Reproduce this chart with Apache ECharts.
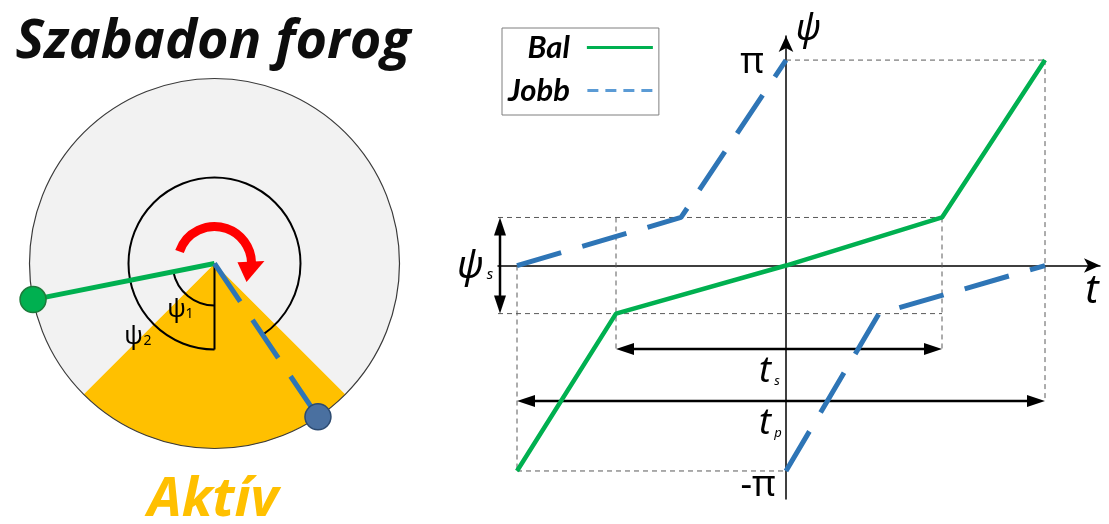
<!DOCTYPE html>
<html><head><meta charset="utf-8">
<script src="https://cdn.jsdelivr.net/npm/echarts@6/dist/echarts.min.js"></script>
<style>html,body{margin:0;padding:0;background:#fff}#c{width:1109px;height:524px}</style>
</head><body><div id="c"></div>
<script>
// ---------------- DATA ----------------
const PI = Math.PI;
const PSI_S = 0.735;                       // ψs (rad)
const seriesNames = ['Bal', 'Jobb'];
// Right chart: time values t and angles ψ
const tBal     = [-2.69, -1.70, 0, 1.56, 2.59];
const psiBal   = [-PI, -PSI_S, 0, PSI_S, PI];
const tJobb1   = [-2.69, -1.05, 0];
const psiJobb1 = [0, PSI_S, PI];
const tJobb2   = [0, 0.93, 2.59];
const psiJobb2 = [-PI, -PSI_S, 0];
const tS = [-1.70, 1.56];                  // ts span
const tP = [-2.69, 2.59];                  // tp span
const yTickValues = [PI, -PI];
const yTickLabels = ['π', '-π'];
// Left diagram: angles in degrees, measured clockwise from straight down
const activeHalfAngle = 45;                // half-width of active (orange) sector
const psi1Deg = 78.75;                     // green arm
const psi2Deg = 326;                       // blue arm
const sectorValues = [2 * activeHalfAngle, 360 - 2 * activeHalfAngle];

// ---------------- LAYOUT (positions, not data) ----------------
const LAY = { tsY: -1.277, tpY: -2.072, psArrowX: -2.86, guideLeft: -2.88,
  wheelR: 185, arcR1: 42, arcR2: 86, redR: 37 };
const WHEEL_CENTER = [214.5, 263.5];

const GREEN = '#00b050', BLUE = '#2e75b6', ORANGE = '#ffc000', GRAY = '#f2f2f2';

const pairs = (xs, ys) => xs.map((x, i) => [x, ys[i]]);

const guideSegs = [
  [0, PI, tP[1], PI],
  [tP[1], PI, tP[1], LAY.tpY],
  [LAY.guideLeft, PSI_S, tS[1], PSI_S],
  [LAY.guideLeft, -PSI_S, tS[1], -PSI_S],
  [tS[0], PSI_S, tS[0], LAY.tsY],
  [tS[1], PSI_S, tS[1], LAY.tsY],
  [tP[0], 0, tP[0], -PI],
  [tP[0], -PI, 0, -PI]
];
const arrowSegs = [
  [tS[0], LAY.tsY, tS[1], LAY.tsY],
  [tP[0], LAY.tpY, tP[1], LAY.tpY],
  [LAY.psArrowX, -PSI_S, LAY.psArrowX, PSI_S]
];

function arrowShape(a, b, color, lw, hl, hw) {
  const dx = b[0] - a[0], dy = b[1] - a[1], L = Math.hypot(dx, dy);
  const ux = dx / L, uy = dy / L, nx = -uy, ny = ux;
  const head = (t, d) => ({ type: 'polygon', shape: { points: [
    [t[0], t[1]],
    [t[0] - d * ux * hl + nx * hw, t[1] - d * uy * hl + ny * hw],
    [t[0] - d * ux * hl - nx * hw, t[1] - d * uy * hl - ny * hw]] }, style: { fill: color } });
  return { type: 'group', children: [
    { type: 'line', shape: { x1: a[0] + ux * hl * 0.7, y1: a[1] + uy * hl * 0.7, x2: b[0] - ux * hl * 0.7, y2: b[1] - uy * hl * 0.7 },
      style: { stroke: color, lineWidth: lw } },
    head(b, 1), head(a, -1)] };
}

function polarArc(api, r, a0, a1, style) {
  const c = api.coord([0, 0]);
  const p0 = api.coord([r, a0]), p1 = api.coord([r, a1]);
  const rp = Math.hypot(p0[0] - c[0], p0[1] - c[1]);
  return { type: 'arc', shape: { cx: c[0], cy: c[1], r: rp,
    startAngle: Math.atan2(p0[1] - c[1], p0[0] - c[0]),
    endAngle: Math.atan2(p1[1] - c[1], p1[0] - c[0]), clockwise: true },
    style: Object.assign({ fill: 'none' }, style) };
}

const option = {
  animation: false,
  backgroundColor: '#ffffff',
  grid: { left: 498, right: 9, top: 36, bottom: 25 },
  xAxis: { type: 'value', min: -2.88, max: 3.14,
    axisLine: { onZero: true, symbol: ['none', 'arrow'], symbolSize: [11, 16], lineStyle: { color: '#000', width: 1.5 } },
    axisTick: { show: false }, axisLabel: { show: false }, splitLine: { show: false } },
  yAxis: { type: 'value', min: -3.57, max: 3.51,
    axisLine: { onZero: true, symbol: ['none', 'arrow'], symbolSize: [11, 16], lineStyle: { color: '#000', width: 1.5 } },
    axisTick: { show: false }, splitLine: { show: false }, axisLabel: { show: false } },
  polar: { center: WHEEL_CENTER, radius: LAY.wheelR },
  angleAxis: { type: 'value', min: 0, max: 360, startAngle: 270, clockwise: true, show: false,
    axisLine: { show: false }, axisTick: { show: false }, axisLabel: { show: false }, splitLine: { show: false } },
  radiusAxis: { type: 'value', min: 0, max: LAY.wheelR, show: false,
    axisLine: { show: false }, axisTick: { show: false }, axisLabel: { show: false }, splitLine: { show: false } },
  legend: {
    orient: 'vertical', left: 502, top: 28, align: 'right',
    itemWidth: 66, itemHeight: 3, itemGap: 12,
    padding: [4, 6, 9, 6], borderColor: '#7f7f7f', borderWidth: 1,
    textStyle: { fontFamily: 'Lato', fontStyle: 'italic', fontWeight: 'bold', fontSize: 31, color: '#000', padding: [0, 12, 0, 0] },
    data: [
      { name: seriesNames[0], icon: 'path://M0,0H66V3H0Z', itemStyle: { color: GREEN } },
      { name: seriesNames[1], icon: 'path://M0,0H11V3H0Z M18,0H29V3H18Z M36,0H47V3H36Z M54,0H65V3H54Z', itemStyle: { color: '#5b9bd5' } }
    ]
  },
  series: [
    // ---- wheel (left) ----
    { type: 'pie', center: WHEEL_CENTER, radius: LAY.wheelR, startAngle: 270 + activeHalfAngle, clockwise: true,
      silent: true, label: { show: false }, labelLine: { show: false }, z: 0,
      itemStyle: { borderWidth: 0 },
      data: [{ value: sectorValues[0], itemStyle: { color: ORANGE } }, { value: sectorValues[1], itemStyle: { color: GRAY } }] },
    { type: 'custom', coordinateSystem: 'polar', silent: true, z: 1, data: [[LAY.wheelR, 0, 359.99]],
      renderItem: (p, api) => polarArc(api, api.value(0), api.value(1), api.value(2), { stroke: '#3a3a3a', lineWidth: 1.2 }) },
    { type: 'custom', coordinateSystem: 'polar', silent: true, z: 2,
      data: [[LAY.arcR1, 0, psi1Deg], [LAY.arcR2, 0, psi2Deg]],
      renderItem: (p, api) => polarArc(api, api.value(0), api.value(1), api.value(2), { stroke: '#000', lineWidth: 2 }) },
    { type: 'line', coordinateSystem: 'polar', silent: true, z: 2, symbol: 'none', clip: false,
      data: [[0, 0], [LAY.arcR2, 0]], lineStyle: { color: '#000', width: 2 } },
    { type: 'line', coordinateSystem: 'polar', silent: true, z: 3, symbol: 'circle', clip: false, showAllSymbol: true,
      symbolSize: (v, p) => p.dataIndex === 1 ? 26 : 0,
      data: [[0, psi1Deg], [LAY.wheelR, psi1Deg]],
      lineStyle: { color: GREEN, width: 5 }, itemStyle: { color: GREEN, borderColor: '#1d7a3a', borderWidth: 1.5 } },
    { type: 'line', coordinateSystem: 'polar', silent: true, z: 3, symbol: 'circle', clip: false, showAllSymbol: true,
      symbolSize: (v, p) => p.dataIndex === 1 ? 26 : 0,
      data: [[0, psi2Deg], [LAY.wheelR, psi2Deg]],
      lineStyle: { color: BLUE, width: 5, type: [46, 22] }, itemStyle: { color: '#4a70a0', borderColor: '#2c4a70', borderWidth: 1.5 } },
    { type: 'custom', coordinateSystem: 'polar', silent: true, z: 4, data: [[LAY.redR, 109, 268, 300]],
      renderItem: (p, api) => {
        const r = api.value(0);
        const b1 = api.coord([r - 14, api.value(2) - 1]), b2 = api.coord([r + 13, api.value(2) - 1]);
        const tip = api.coord([r, api.value(3)]);
        return { type: 'group', children: [
          polarArc(api, r, api.value(1), api.value(2), { stroke: '#ff0000', lineWidth: 9 }),
          { type: 'polygon', shape: { points: [b1, b2, tip] }, style: { fill: '#ff0000' } }] };
      } },
    // ---- time diagram (right) ----
    { type: 'custom', coordinateSystem: 'cartesian2d', silent: true, z: 1, data: guideSegs, encode: { x: [0, 2], y: [1, 3] },
      renderItem: (p, api) => {
        const a = api.coord([api.value(0), api.value(1)]), b = api.coord([api.value(2), api.value(3)]);
        return { type: 'line', shape: { x1: a[0], y1: a[1], x2: b[0], y2: b[1] }, style: { stroke: '#5a5a5a', lineWidth: 1, lineDash: [5, 4] } };
      } },
    { type: 'custom', coordinateSystem: 'cartesian2d', silent: true, z: 2, data: arrowSegs, encode: { x: [0, 2], y: [1, 3] },
      renderItem: (p, api) => arrowShape(api.coord([api.value(0), api.value(1)]), api.coord([api.value(2), api.value(3)]), '#000', 2.5, 18, 6) },
    { name: seriesNames[0], type: 'line', coordinateSystem: 'cartesian2d', z: 5, silent: true, symbol: 'none',
      data: pairs(tBal, psiBal), lineStyle: { color: GREEN, width: 4.5 }, itemStyle: { color: GREEN } },
    { name: seriesNames[1], type: 'line', coordinateSystem: 'cartesian2d', z: 5, silent: true, symbol: 'none',
      data: pairs(tJobb1, psiJobb1), lineStyle: { color: BLUE, width: 5, type: [46, 22] }, itemStyle: { color: BLUE } },
    { name: seriesNames[1], type: 'line', coordinateSystem: 'cartesian2d', z: 5, silent: true, symbol: 'none',
      data: pairs(tJobb2, psiJobb2), lineStyle: { color: BLUE, width: 5, type: [46, 22] }, itemStyle: { color: BLUE } }
  ]
};

const chart = echarts.init(document.getElementById('c'));
chart.setOption(option);

// ---------------- text annotations anchored through the scales ----------------
const g = pt => chart.convertToPixel({ gridIndex: 0 }, pt);
const o = g([0, 0]);
const tsP = g([0, LAY.tsY]), tpP = g([0, LAY.tpY]), psP = g([LAY.psArrowX, 0]);
const piTop = g([0, yTickValues[0]]), piBot = g([0, yTickValues[1]]);
const txt = (x, y, text, font, fill, align) => ({ type: 'text', x, y, z: 100, silent: true,
  style: { text, font, fill: fill || '#000', align: align || 'center', verticalAlign: 'middle' } });
const C = WHEEL_CENTER;
chart.setOption({ graphic: [
  txt(213, 43, 'Szabadon forog', 'italic bold 54px "Open Sans"', '#0d0d0d'),
  txt(213, 501, 'Aktív', 'italic bold 54px "Open Sans"', ORANGE),
  txt(C[0] - 38, C[1] + 46, 'ψ', '25px "Noto Sans"'),
  txt(C[0] - 25, C[1] + 51, '1', '14px "Noto Sans"'),
  txt(C[0] - 81, C[1] + 73, 'ψ', '25px "Noto Sans"'),
  txt(C[0] - 67, C[1] + 78, '2', '14px "Noto Sans"'),
  txt(piTop[0] - 34, piTop[1] + 3, yTickLabels[0], '36px "Noto Sans"'),
  txt(piBot[0] - 28, piBot[1] + 15, yTickLabels[1], '36px "Noto Sans"'),
  txt(o[0] + 22, 30, 'ψ', 'italic 36px "Noto Sans"'),
  txt(1092, o[1] + 26, 't', 'italic 40px "Noto Sans"'),
  txt(psP[0] - 30, o[1] + 2, 'ψ', 'italic 38px "Noto Sans"'),
  txt(psP[0] - 10, o[1] + 9, 's', 'italic 15px "Noto Sans"'),
  txt(tsP[0] - 21, tsP[1] + 23, 't', 'italic 36px "Noto Sans"'),
  txt(tsP[0] - 9, tsP[1] + 32, 's', 'italic 13px "Noto Sans"'),
  txt(tpP[0] - 21, tpP[1] + 23, 't', 'italic 36px "Noto Sans"'),
  txt(tpP[0] - 8, tpP[1] + 32, 'p', 'italic 13px "Noto Sans"')
] });
</script></body></html>
